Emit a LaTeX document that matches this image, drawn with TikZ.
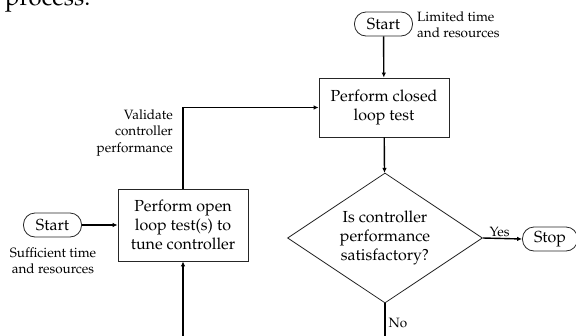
\documentclass[tikz,border=0pt]{standalone}
\usepackage[T1]{fontenc}
\usepackage{mathpazo}
\usetikzlibrary{shapes.geometric,arrows.meta}
\begin{document}
\begin{tikzpicture}[x=1pt,y=-1pt,
  boxfont/.style={font=\fontsize{16}{19}\selectfont},
  smallfont/.style={font=\fontsize{13.5}{16.5}\selectfont},
  proc/.style={boxfont, draw=black!85, line width=0.8pt, minimum width=130pt, minimum height=59pt, align=center, inner sep=0pt},
  term/.style={boxfont, draw=black!85, line width=0.8pt, rounded corners=11.5pt, minimum width=58pt, minimum height=24pt, inner sep=0pt},
  decision/.style={boxfont, draw=black!85, line width=0.8pt, diamond, shape aspect=1.5, minimum width=195pt, minimum height=130pt, align=center, inner sep=0pt},
  note/.style={smallfont, inner sep=0pt},
  arr/.style={line width=1.4pt, -{Latex[length=5pt,width=4.5pt]}},
]
\useasboundingbox (0,0) rectangle (576,335);
\clip (0,0) rectangle (576,335);

\node[font=\fontsize{24}{28}\selectfont, anchor=base west, inner sep=0pt] (proc) at (5,5.5) {process.};

\node[term] (startA) at (383.5,24) {Start};
\node[note, anchor=west, align=left] (limited) at (417,25) {Limited time\\and resources};
\node[proc] (closed) at (384,107.5) {Perform closed\\loop test};
\node[decision] (dec) at (385,238) {Is controller\\performance\\satisfactory?};
\node[term, minimum width=55pt] (stop) at (550,239) {Stop};

\node[proc, minimum height=72pt] (open) at (183,225) {Perform open\\loop test(s) to\\tune controller};
\node[term] (startB) at (52.5,225) {Start};
\node[note, align=center] (suff) at (53,261) {Sufficient time\\and resources};
\node[note, align=right, anchor=east] (valid) at (173,133) {Validate\\controller\\performance};

\coordinate (loop) at (0,350);

\draw[arr] (startA) -- (closed);
\draw[arr] (closed) -- (dec);
\draw[arr] (dec.east) -- node[smallfont, above, inner sep=1.5pt, xshift=-3pt] (yes) {Yes} (stop.west);
\draw[arr] (open.north) |- (closed.west);
\draw[arr] (startB) -- (open);
\draw[arr] (dec.south) -- node[smallfont, pos=0.42, anchor=west, inner sep=3pt] (no) {No} (dec.south |- loop) -| (open.south);
\end{tikzpicture}
\end{document}
